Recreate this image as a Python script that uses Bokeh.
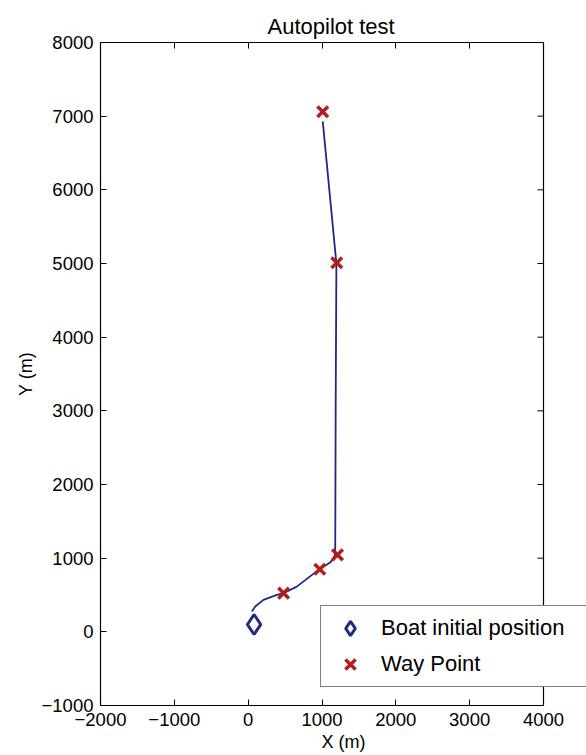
import math
from bokeh.plotting import figure
from bokeh.models import LinearAxis, FixedTicker, Range1d, Legend, LegendItem
from bokeh.embed import file_html
from bokeh.resources import INLINE

# trajectory of the boat
traj_x = [50, 95, 207, 388, 478, 659, 966, 1111, 1160, 1178, 1180, 1185, 1195, 1010]
traj_y = [276, 343, 434, 502, 524, 614, 851, 942, 1000, 1060, 1300, 3000, 5000, 6930]

# way points
wp_x = [1010, 1200, 1210, 970, 480]
wp_y = [7060, 5010, 1045, 850, 525]

# boat initial position
boat_x = [80]
boat_y = [100]

x_ticks = [-2000, -1000, 0, 1000, 2000, 3000, 4000]
y_ticks = [-1000, 0, 1000, 2000, 3000, 4000, 5000, 6000, 7000, 8000]

FONT = "Liberation Sans"
NAVY = "#1c2a80"
RED = "#b21e1e"

W, H = 586, 755
LEFT, TOP, BOTTOM = 100, 42, 50
AXES_W = 443  # width of the drawn box; the frame runs on to the page edge
frame_w = W - LEFT
x0, x1 = x_ticks[0], x_ticks[-1]
x_end = x0 + (x1 - x0) * frame_w / AXES_W

p = figure(width=W, height=H, output_backend="svg", toolbar_location=None,
           x_range=Range1d(x0, x_end), y_range=Range1d(y_ticks[0], y_ticks[-1]),
           title="Autopilot test",
           min_border_left=LEFT, min_border_right=0, min_border_top=TOP,
           min_border_bottom=BOTTOM)

p.title.text_font = FONT
p.title.text_font_size = "22px"
p.title.text_font_style = "normal"
p.title.align = "left"
p.title.offset = 167
p.title.text_color = "black"
p.title.standoff = 8

p.xgrid.visible = False
p.ygrid.visible = False
p.outline_line_color = None
p.background_fill_color = "white"
p.border_fill_color = "white"


def style_axis(ax, ticks, labels=True):
    ax.ticker = FixedTicker(ticks=ticks)
    ax.minor_tick_line_color = None
    ax.major_tick_in = 6
    ax.major_tick_out = 0
    ax.major_tick_line_color = "black"
    ax.major_tick_line_width = 1
    ax.axis_line_color = "black"
    ax.axis_line_width = 1.2
    if labels:
        ax.major_label_text_font = FONT
        ax.major_label_text_font_size = "18.5px"
        ax.major_label_text_color = "black"
        ax.axis_label_text_font = FONT
        ax.axis_label_text_font_size = "18px"
        ax.axis_label_text_font_style = "normal"
        ax.axis_label_text_color = "black"
    else:
        ax.major_label_text_font_size = "1px"
        ax.major_label_text_color = None
        ax.major_label_standoff = 0
        ax.axis_label = None


p.xaxis.axis_label = "X (m)"
p.yaxis.axis_label = "Y (m)"
style_axis(p.xaxis[0], x_ticks)
style_axis(p.yaxis[0], y_ticks)
p.xaxis[0].bounds = (x0, x1)
p.xaxis[0].major_label_standoff = 7
p.xaxis[0].axis_label_standoff = 3
p.yaxis[0].major_label_standoff = 7
p.yaxis[0].axis_label_standoff = 3

top_ax = LinearAxis()
style_axis(top_ax, x_ticks, labels=False)
top_ax.bounds = (x0, x1)
p.add_layout(top_ax, "above")

# right edge of the axes box with inward ticks
p.line([x1, x1], [y_ticks[0], y_ticks[-1]], line_color="black", line_width=1.2)
p.ray(x=[x1] * len(y_ticks), y=y_ticks, length=6, length_units="screen",
      angle=math.pi, line_color="black", line_width=1)

p.line(traj_x, traj_y, line_color=NAVY, line_width=1.8)
r_wp = p.scatter(wp_x, wp_y, marker="x", size=15, line_color=RED, line_width=3.5)
r_boat = p.scatter(boat_x, boat_y, marker="diamond", size=20, fill_color=None,
                   line_color=NAVY, line_width=3)

legend = Legend(items=[LegendItem(label="Boat initial position", renderers=[r_boat]),
                       LegendItem(label="Way Point", renderers=[r_wp])],
                location=(220, 18))
legend.label_text_font = FONT
legend.label_text_font_size = "22px"
legend.label_text_color = "black"
legend.border_line_color = "black"
legend.border_line_width = 1.5
legend.background_fill_color = "white"
legend.background_fill_alpha = 1
legend.padding = 4
legend.spacing = 0
legend.glyph_height = 36
legend.glyph_width = 50
legend.label_standoff = 6
legend.label_width = 320
legend.margin = 0
p.add_layout(legend, "center")

open("out.html", "w").write(file_html(p, INLINE))
